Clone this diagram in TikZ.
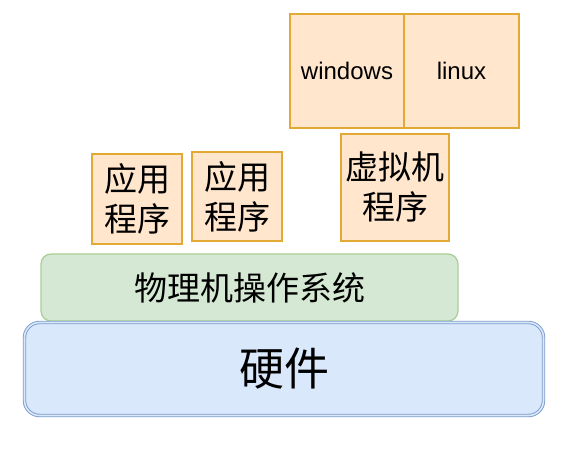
\documentclass[tikz,border=0pt]{standalone}
\usepackage{fontspec}
\setmainfont{Liberation Sans}
\newfontfamily\cjk{Noto Sans CJK SC}
\definecolor{orfill}{HTML}{FFE6CC}
\definecolor{ordraw}{HTML}{E3A935}
\definecolor{grfill}{HTML}{D5E8D4}
\definecolor{grdraw}{HTML}{A9CE94}
\definecolor{blfill}{HTML}{DAE8FC}
\definecolor{bldraw}{HTML}{7C9CCB}
\begin{document}
\begin{tikzpicture}[x=1pt,y=-1pt,
  orbox/.style={draw=ordraw,fill=orfill,line width=1.2pt,inner sep=0pt,align=center,text=black},
  cjktext/.style={font=\cjk\fontsize{33}{40}\selectfont},
  latintext/.style={font=\fontsize{24}{28}\selectfont},
  osbox/.style={draw=grdraw,fill=grfill,line width=1.2pt,rounded corners=10pt,inner sep=0pt,font=\cjk\fontsize{33}{40}\selectfont},
  hwbox/.style={draw=bldraw,double=blfill,double distance=1.6pt,line width=0.9pt,fill=blfill,rounded corners=15pt,inner sep=0pt,font=\cjk\fontsize{45}{50}\selectfont}
]
\useasboundingbox (0,0) rectangle (580,452);
\node[orbox,latintext,minimum width=114pt,minimum height=114pt] (win) at (347,71) {windows};
\node[orbox,latintext,minimum width=115pt,minimum height=114pt] (lin) at (461.5,71) {linux};
\node[orbox,cjktext,minimum width=90pt,minimum height=90pt] (app1) at (137,199) {应用\\程序};
\node[orbox,cjktext,minimum width=90pt,minimum height=89pt] (app2) at (237,196.5) {应用\\程序};
\node[orbox,cjktext,minimum width=108pt,minimum height=107pt] (vm) at (395,187.5) {虚拟机\\程序};
\node[osbox,minimum width=417pt,minimum height=67pt] (os) at (249.5,287.5) {物理机操作系统};
\node[hwbox,minimum width=519pt,minimum height=93pt] (hw) at (284,369) {硬件};
\end{tikzpicture}
\end{document}
